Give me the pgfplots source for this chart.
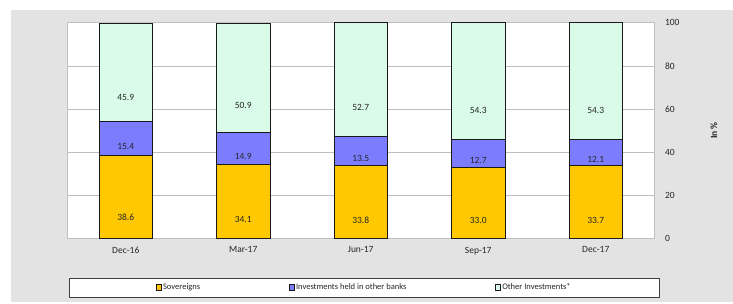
\documentclass[border=0pt]{standalone}
\usepackage{pgfplots}
\pgfplotsset{compat=1.18}
\usepackage{pgfplotstable}
\usepackage{fontspec}
\setmainfont{Carlito}
\definecolor{sovc}{HTML}{FFC800}
\definecolor{invc}{HTML}{7C7CFF}
\definecolor{othc}{HTML}{D9FBE7}
\definecolor{bgc}{HTML}{E3E3E3}
\definecolor{gridc}{HTML}{BFBFBF}
\definecolor{txt}{HTML}{262626}
\pgfplotstableread{
x sov inv oth
0 38.6 15.4 45.9
1 34.1 14.9 50.9
2 33.8 13.5 52.7
3 33.0 12.7 54.3
4 33.7 12.1 54.3
}\datatable
\begin{document}
\begin{tikzpicture}[x=1pt,y=1pt]
\fill[white] (0,0) rectangle (733,303);
\fill[bgc] (11,1) rectangle (733,293);
\draw[black!75,line width=0.8pt,fill=white] (69,6) rectangle (659,25);
\begin{axis}[
  at={(67pt,64.7pt)}, anchor=south west,
  scale only axis, width=587.5pt, height=215.6pt,
  axis background/.style={fill=white},
  ybar stacked, bar width=53.5pt,
  xmin=-0.5, xmax=4.5, ymin=0, ymax=100,
  clip=false,
  xtick=data, xticklabels={Dec-16,Mar-17,Jun-17,Sep-17,Dec-17},
  ytick={0,20,40,60,80,100},
  yticklabel pos=right,
  major tick length=0pt,
  /pgf/number format/assume math mode=true,
  ymajorgrids, grid style={gridc, line width=0.6pt},
  axis line style={draw=gridc, line width=0.6pt},
  ticklabel style={font=\fontsize{9.5}{11}\selectfont, text=txt},
  yticklabel style={anchor=west, xshift=7pt},
  xticklabel style={yshift=-5pt},
  ylabel={In \%},
  ylabel style={at={(axis description cs:1.101,0.5)}, anchor=center, rotate=0, font=\bfseries\fontsize{9.5}{11}\selectfont, text=txt},
  point meta=explicit,
  nodes near coords={\pgfmathprintnumber[fixed,fixed zerofill,precision=1,assume math mode=true]{\pgfplotspointmeta}},
  visualization depends on={rawy \as \rawy},
  every node near coord/.append style={anchor=center, shift={(axis direction cs:0,-\rawy/4)}, font=\fontsize{9.5}{11}\selectfont, text=txt},
  legend image code/.code={\draw[#1] (0pt,-2.6pt) rectangle (5pt,2.6pt);},
  legend columns=3,
  legend style={draw=none, fill=none, at={(axis description cs:0.5055,-0.228)}, anchor=center,
    font=\fontsize{8.5}{10}\selectfont, text=txt,
    /tikz/every even column/.append style={column sep=88pt},
    nodes={inner sep=1pt}},
]
\addplot[fill=sovc, draw=black!90, line width=0.8pt] table[x=x,y=sov,meta=sov] \datatable;
\addplot[fill=invc, draw=black!90, line width=0.8pt] table[x=x,y=inv,meta=inv] \datatable;
\addplot[fill=othc, draw=black!90, line width=0.8pt] table[x=x,y=oth,meta=oth] \datatable;
\legend{Sovereigns,Investments held in other banks,Other Investments*}
\end{axis}
\end{tikzpicture}
\end{document}
